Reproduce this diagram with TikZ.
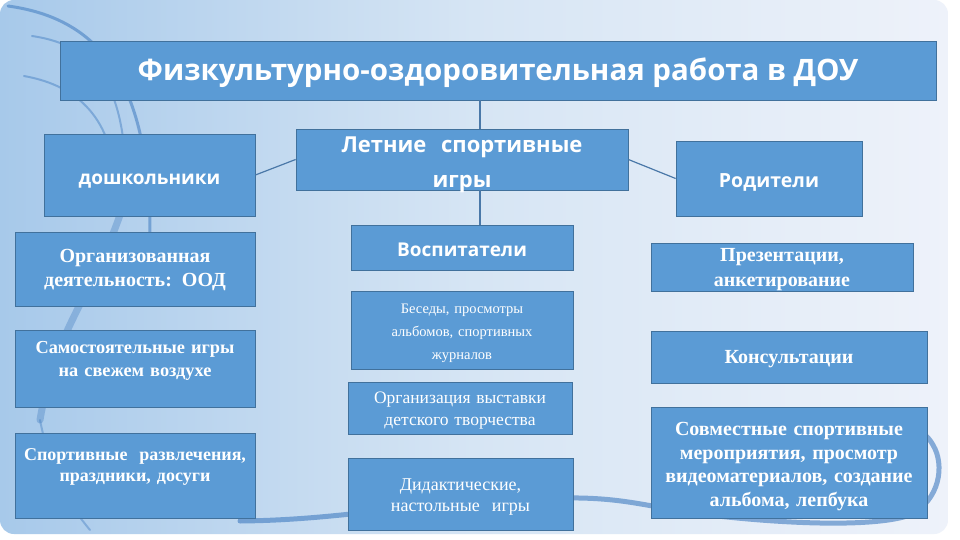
\documentclass[tikz,border=0pt]{standalone}
\usepackage{fontspec}
\setmainfont{Liberation Serif}
\newfontfamily\hdfont{Open Sans}
\definecolor{boxfill}{HTML}{5B9BD5}
\definecolor{boxline}{HTML}{41719C}
\definecolor{conn}{HTML}{4A78A8}
\definecolor{bgleft}{HTML}{A7C9EA}
\definecolor{bgmid}{HTML}{D6E5F4}
\definecolor{bgright}{HTML}{EEF2FA}
\definecolor{swirl}{HTML}{3F7BC0}
\tikzset{
  box/.style={draw=boxline, line width=0.8pt, fill=boxfill, text=white, align=center, inner sep=2pt},
  lbl/.style={text=white, align=center, inner sep=0pt},
  link/.style={draw=conn, line width=1.2pt},
  swirlline/.style={draw=swirl, line cap=round}
}
\begin{document}
\begin{tikzpicture}[x=1pt,y=-1pt]
\useasboundingbox (0,0) rectangle (960,540);
\fill[white] (0,0) rectangle (960,540);
\shade[left color=bgleft, right color=bgright, middle color=bgmid, rounded corners=14pt] (0,0) rectangle (948,534);
% decorative swirls
\draw[swirlline, line width=3pt, opacity=0.55] (8,6) .. controls (95,18) and (150,75) .. (150,235);
\draw[swirlline, line width=2pt, opacity=0.45] (32,36) .. controls (100,46) and (128,90) .. (126,200);
\draw[swirlline, line width=2pt, opacity=0.45] (24,76) .. controls (80,86) and (112,120) .. (116,185);
\draw[swirlline, line width=7pt, opacity=0.35] (120,215) .. controls (90,300) and (55,330) .. (40,420);
\draw[swirlline, line width=2pt, opacity=0.4] (40,420) .. controls (50,470) and (65,500) .. (90,530);
\draw[swirlline, line width=5pt, opacity=0.6] (240,521) .. controls (350,520) and (420,500) .. (560,498) .. controls (620,497) and (640,505) .. (700,514) .. controls (800,526) and (880,526) .. (910,515) .. controls (940,500) and (945,465) .. (933,445) .. controls (928,436) and (922,432) .. (915,430);
% boxes (frames)
\node[box, minimum width=876pt, minimum height=59pt] (title) at (498,70.5) {};
\node[box, minimum width=211pt, minimum height=82pt] (dosh) at (149.5,175) {};
\node[box, minimum width=332pt, minimum height=61pt] (leto) at (462,159.5) {};
\node[box, minimum width=186pt, minimum height=75pt] (rod) at (769,178.5) {};
\node[box, minimum width=222pt, minimum height=45pt] (vosp) at (462,247.5) {};
\node[box, minimum width=240pt, minimum height=74pt] (org) at (135,269) {};
\node[box, minimum width=222pt, minimum height=78pt] (bes) at (462,330) {};
\node[box, minimum width=240pt, minimum height=77pt] (sam) at (135,368.5) {};
\node[box, minimum width=224pt, minimum height=52pt] (vyst) at (460,408) {};
\node[box, minimum width=240pt, minimum height=85pt] (sport) at (135,475.5) {};
\node[box, minimum width=225pt, minimum height=72pt] (did) at (460.5,494) {};
\node[box, minimum width=262pt, minimum height=48pt] (pres) at (782,267) {};
\node[box, minimum width=276pt, minimum height=52pt] (kons) at (789,357) {};
\node[box, minimum width=276pt, minimum height=111pt] (sovm) at (789,462.5) {};
% labels
\node[lbl, font=\hdfont\bfseries\fontsize{29.5}{34}\selectfont] (titleT) at ([yshift=-2pt]title.center) {Физкультурно-оздоровительная работа в ДОУ};
\node[lbl, font=\hdfont\bfseries\fontsize{19}{24}\selectfont] (doshT) at ([yshift=-6pt]dosh.center) {дошкольники};
\node[lbl, text width=326pt, font=\hdfont\bfseries\fontsize{22}{35}\selectfont] (letoT) at ([yshift=-5pt]leto.center) {Летние \ спортивные\\игры};
\node[lbl, font=\hdfont\bfseries\fontsize{19.5}{24}\selectfont] (rodT) at ([yshift=-4pt]rod.center) {Родители};
\node[lbl, font=\hdfont\bfseries\fontsize{19}{24}\selectfont] (vospT) at ([yshift=-2pt]vosp.center) {Воспитатели};
\node[lbl, text width=236pt, font=\bfseries\fontsize{20}{24}\selectfont] (orgT) at ([yshift=-1pt]org.center) {Организованная\\деятельность: ООД};
\node[lbl, text width=218pt, font=\fontsize{14.5}{23}\selectfont] (besT) at ([yshift=-3pt]bes.center) {Беседы, просмотры\\альбомов, спортивных\\журналов};
\node[lbl, text width=236pt, font=\bfseries\fontsize{18.3}{23}\selectfont] (samT) at ([yshift=8pt]sam.center) {Самостоятельные игры\\на свежем воздухе};
\node[lbl, text width=220pt, font=\fontsize{17.5}{22}\selectfont] (vystT) at ([yshift=-3pt]vyst.center) {Организация выставки\\детского творчества};
\node[lbl, text width=236pt, font=\bfseries\fontsize{18}{21}\selectfont] (sportT) at ([yshift=9pt]sport.center) {Спортивные \ развлечения,\\праздники, досуги};
\node[lbl, text width=221pt, font=\fontsize{18}{21}\selectfont] (didT) at ([yshift=-3pt]did.center) {Дидактические,\\настольные \ игры};
\node[lbl, text width=258pt, font=\bfseries\fontsize{20}{25}\selectfont] (presT) at ([yshift=-3pt]pres.center) {Презентации,\\анкетирование};
\node[lbl, text width=272pt, font=\bfseries\fontsize{20}{24}\selectfont] (konsT) at ([yshift=-2pt]kons.center) {Консультации};
\node[lbl, text width=272pt, font=\bfseries\fontsize{20}{23.5}\selectfont] (sovmT) at ([yshift=-4pt]sovm.center) {Совместные спортивные\\мероприятия, просмотр\\видеоматериалов, создание\\альбома, лепбука};
% connectors
\coordinate (vx) at (480,0);
\draw[link] (title.south -| vx) -- (leto.north -| vx);
\draw[link] (leto.south -| vx) -- (vosp.north -| vx);
\draw[link] (dosh.east) -- (leto.west);
\draw[link] (leto.east) -- (rod.west);
\end{tikzpicture}
\end{document}
